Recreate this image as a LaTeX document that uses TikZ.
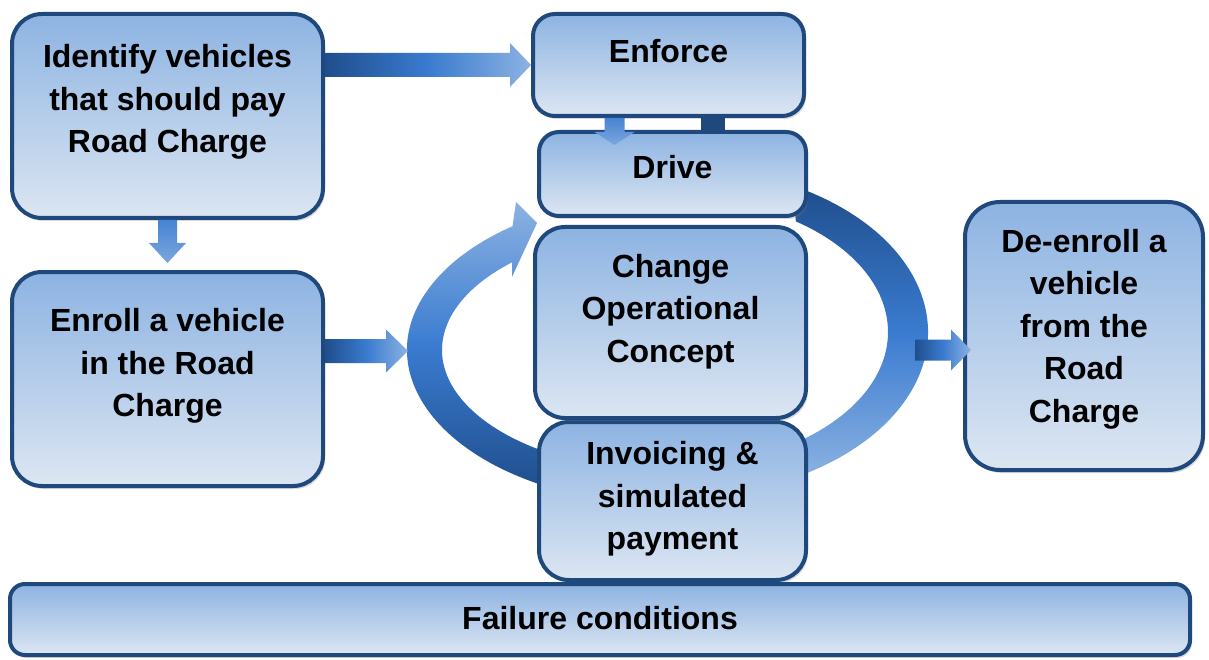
\documentclass[tikz,border=0pt]{standalone}
\usepackage{fontspec}
\setmainfont{Liberation Sans}
\usetikzlibrary{calc,shadows}

\definecolor{boxline}{HTML}{1F497D}
\definecolor{boxtop}{HTML}{8DB3E2}
\definecolor{boxbottom}{HTML}{DCE6F2}
\definecolor{arrowdark}{HTML}{1F4E8C}
\definecolor{arrowmid}{HTML}{3A7BD0}
\definecolor{arrowlight}{HTML}{8CB2E2}

% Block arrow pointing right: from, to, shaft half width, head half width, head length.
\newcommand{\rightblock}[5]{%
  \shade[left color=arrowdark, right color=arrowlight, middle color=arrowmid]
    ($(#1)+(0,#3)$) -- ($(#2)+(-#5,#3)$) -- ($(#2)+(-#5,#4)$) -- (#2)
    -- ($(#2)+(-#5,-#4)$) -- ($(#2)+(-#5,-#3)$) -- ($(#1)+(0,-#3)$) -- cycle;}

% Block arrow pointing down, same arguments.
\newcommand{\downblock}[5]{%
  \shade[top color=arrowmid!85!arrowlight, bottom color=arrowlight!80!arrowmid]
    ($(#1)+(-#3,0)$) -- ($(#2)+(-#3,#5)$) -- ($(#2)+(-#4,#5)$) -- (#2)
    -- ($(#2)+(#4,#5)$) -- ($(#2)+(#3,#5)$) -- ($(#1)+(#3,0)$) -- cycle;}

\begin{document}
\begin{tikzpicture}[x=1pt, y=1pt,
    box/.style={draw=boxline, line width=4pt, rounded corners=30pt,
                top color=boxtop, bottom color=boxbottom,
                drop shadow={shadow xshift=2pt, shadow yshift=-3pt, opacity=0.3}},
    lbl/.style={font=\fontsize{32}{42.5}\selectfont\bfseries, align=center}]

    \useasboundingbox (0,0) rectangle (1209,-660);

    % Centres of the two halves of the ring.
    \coordinate (ringL) at (672,-350);
    \coordinate (ringR) at (672,-332);

    % Left half of the ring, ending in its arrow head.
    \shade[top color=arrowlight, bottom color=arrowdark, middle color=arrowmid]
        ($(ringL)+(245:265 and 155)$) arc[start angle=245, end angle=127, x radius=265, y radius=155]
        -- (516,-202) -- (537,-223) -- (512,-277)
        -- ($(ringL)+(134:230 and 122)$) arc[start angle=134, end angle=245, x radius=230, y radius=122]
        -- cycle;

    % Right half of the ring.
    \shade[top color=arrowdark, bottom color=arrowlight, middle color=arrowmid]
        ($(ringR)+(62:256 and 166)$) arc[start angle=62, end angle=-62, x radius=256, y radius=166]
        -- ($(ringR)+(-55:216 and 135)$) arc[start angle=-55, end angle=55, x radius=216, y radius=135]
        -- cycle;

    % Boxes of the loop.
    \node[box, minimum width=267, minimum height=158] (invoice) at (672.5,-501) {};
    \node[box, rounded corners=20pt, minimum width=267, minimum height=84] (drive) at (672.5,-174) {};
    \node[box, minimum width=271, minimum height=191] (change) at (670.5,-322.5) {};
    \node[box, rounded corners=22pt, minimum width=271, minimum height=102] (enforce) at (668.5,-65) {};

    % Small piece between Enforce and Drive.
    \fill[boxline] ([xshift=32pt]enforce.south) rectangle ([xshift=52pt]drive.north);

    % Boxes on the sides and at the bottom.
    \node[box, minimum width=311, minimum height=204] (identify) at (167.5,-116) {};
    \node[box, minimum width=311, minimum height=214] (enroll) at (167.5,-379) {};
    \node[box, rounded corners=35pt, minimum width=238, minimum height=268] (deenroll) at (1084,-336) {};
    \node[box, rounded corners=15pt, minimum width=1180, minimum height=71] (failure) at (600,-619.5) {};

    % Labels.
    \node[lbl] (identifytxt) at ([yshift=14pt]identify.center) {Identify vehicles\\that should pay\\Road Charge};
    \node[lbl] (enforcetxt) at ([yshift=14pt]enforce.center) {Enforce};
    \node[lbl] (drivetxt) at ([yshift=7pt]drive.center) {Drive};
    \node[lbl] (changetxt) at ([yshift=11pt]change.center) {Change\\Operational\\Concept};
    \node[lbl] (invoicetxt) at ([yshift=2pt]invoice.center) {Invoicing \&\\simulated\\payment};
    \node[lbl] (enrolltxt) at ([yshift=13pt]enroll.center) {Enroll a vehicle\\in the Road\\Charge};
    \node[lbl] (deenrolltxt) at ([yshift=7pt]deenroll.center) {De-enroll a\\vehicle\\from the\\Road\\Charge};
    \node[lbl] (failuretxt) at ([yshift=1pt]failure.center) {Failure conditions};

    % Points where the arrows start and end.
    \coordinate (ringW) at (408,-351);
    \coordinate (ringE) at (915,-350);
    \path (deenroll.west |- ringE) ++(8,0) coordinate (deenrollIn);
    \coordinate (enforceOut) at ([xshift=-54pt]enforce.south);
    \path (enforceOut |- drive.north) ++(0,-15) coordinate (driveIn);

    % Block arrows.
    \rightblock{identify.east |- enforce.west}{enforce.west}{12}{22}{21}
    \rightblock{enroll.east |- ringW}{ringW}{12}{21.5}{22}
    \rightblock{ringE}{deenrollIn}{10.5}{20.5}{20}
    \downblock{identify.south}{[yshift=7pt]enroll.north}{9.5}{18.5}{20}
    \downblock{enforceOut}{driveIn}{10}{20}{13}
\end{tikzpicture}
\end{document}
